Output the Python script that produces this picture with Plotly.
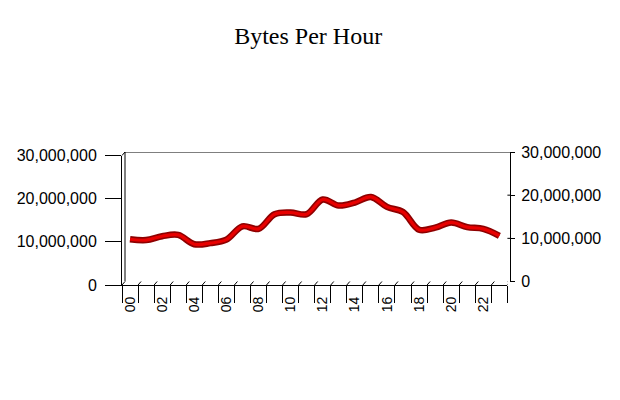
import plotly.graph_objects as go

hours = list(range(24))
hour_labels = [f"{h:02d}" for h in hours]
bytes_per_hour = [10.6e6, 10.4e6, 11.3e6, 11.6e6, 9.45e6, 9.7e6, 10.5e6, 13.6e6,
                  13.0e6, 16.4e6, 16.8e6, 16.4e6, 19.8e6, 18.4e6, 19.1e6, 20.4e6,
                  18.1e6, 16.9e6, 12.8e6, 13.3e6, 14.5e6, 13.4e6, 13.0e6, 11.4e6]
y_ticks = [0, 10_000_000, 20_000_000, 30_000_000]
y_tick_labels = [f"{v:,}" for v in y_ticks]
label_hours = hours[::2]
label_text = hour_labels[::2]

FONT = "Liberation Sans, Arial, sans-serif"
W, H = 620, 400
ML, MR, MT, MB = 122, 110, 152, 115
PW = W - ML - MR
PH = H - MT - MB
DX_PX, DY_PX = 3.0, 3.5
x_dom_end = 0.9933
cat_px = PW * x_dom_end / 24
d = DX_PX / cat_px
dy = DY_PX / PH

fig = go.Figure()

fig.add_trace(go.Scatter(x=hours, y=bytes_per_hour, mode="lines", yaxis="y2",
                         line=dict(color="#8e0000", width=6.5, shape="spline", smoothing=1.0),
                         hoverinfo="skip", showlegend=False))
fig.add_trace(go.Scatter(x=hours, y=bytes_per_hour, mode="lines", yaxis="y2",
                         line=dict(color="#e80000", width=3.2, shape="spline", smoothing=1.0),
                         showlegend=False))
fig.add_trace(go.Scatter(x=[None], y=[None], yaxis="y", mode="lines",
                         hoverinfo="skip", showlegend=False))

shapes = []
# back wall gridlines & top edge (right-axis scale)
for v in y_ticks[1:]:
    shapes.append(dict(type="line", xref="paper", yref="y", x0=DX_PX / PW, x1=1,
                       y0=v, y1=v, line=dict(color="black", width=1), layer="below"))
# back wall left edge
shapes.append(dict(type="line", xref="paper", yref="y", x0=DX_PX / PW, x1=DX_PX / PW,
                   y0=0, y1=y_ticks[-1], line=dict(color="black", width=1)))
# small corner connector
shapes.append(dict(type="line", xref="paper", yref="paper", x0=0, x1=DX_PX / PW,
                   y0=(PH - DY_PX) / PH, y1=1, line=dict(color="black", width=1)))
# floor
bounds = [h - 0.5 for h in hours] + [hours[-1] + 0.5]
floor_path = (f"M {bounds[0]},0 L {bounds[-1]},0 L {bounds[-1] + d},{dy} "
              f"L {bounds[0] + d},{dy} Z")
shapes.append(dict(type="path", xref="x", yref="paper", path=floor_path,
                   fillcolor="#d9d9d9", line=dict(color="black", width=1), layer="below"))
diag = " ".join(f"M {b},0 L {b + d},{dy}" for b in bounds)
shapes.append(dict(type="path", xref="x", yref="paper", path=diag,
                   line=dict(color="black", width=1)))

fig.update_layout(
    width=W, height=H,
    margin=dict(l=ML, r=MR, t=MT, b=MB),
    paper_bgcolor="white", plot_bgcolor="white",
    title=dict(text="Bytes Per Hour", x=0.497, xanchor="center", y=1 - 36 / H,
               yanchor="middle", yref="container",
               font=dict(family="Liberation Serif, Times New Roman, serif", size=24, color="black")),
    xaxis=dict(domain=[0, x_dom_end], range=[-0.5, 23.5], anchor="y2",
               showline=True, linecolor="black", linewidth=1, showgrid=False, zeroline=False,
               tickmode="array", tickvals=label_hours, ticktext=label_text, tickangle=-90,
               ticks="", ticklabelstandoff=5,
               tickfont=dict(family=FONT, size=14, color="black"),
               minor=dict(tickmode="linear", tick0=-0.5, dtick=1, ticks="outside",
                          ticklen=17, tickcolor="black", tickwidth=1, showgrid=False)),
    yaxis2=dict(domain=[0, (PH - DY_PX) / PH], range=[0, 30_000_000], anchor="x", side="left",
                showline=True, linecolor="black", linewidth=1, showgrid=False, zeroline=False,
                tickmode="array", tickvals=y_ticks, ticktext=y_tick_labels,
                ticks="outside", ticklen=16, tickcolor="black", ticklabelstandoff=5,
                tickfont=dict(family=FONT, size=16, color="black")),
    yaxis=dict(domain=[dy, 1], range=[0, 30_000_000], anchor="free", position=1, side="right",
               showline=True, linecolor="black", linewidth=1, showgrid=False, zeroline=False,
               tickmode="array", tickvals=y_ticks, ticktext=y_tick_labels,
               ticks="outside", ticklen=4, tickcolor="black", ticklabelstandoff=3,
               tickfont=dict(family=FONT, size=16, color="black")),
    shapes=shapes,
    showlegend=False,
)

fig.write_html("out.html", config={"displayModeBar": False},
               post_script="document.body.style.margin='0px';document.body.style.padding='0px';")
